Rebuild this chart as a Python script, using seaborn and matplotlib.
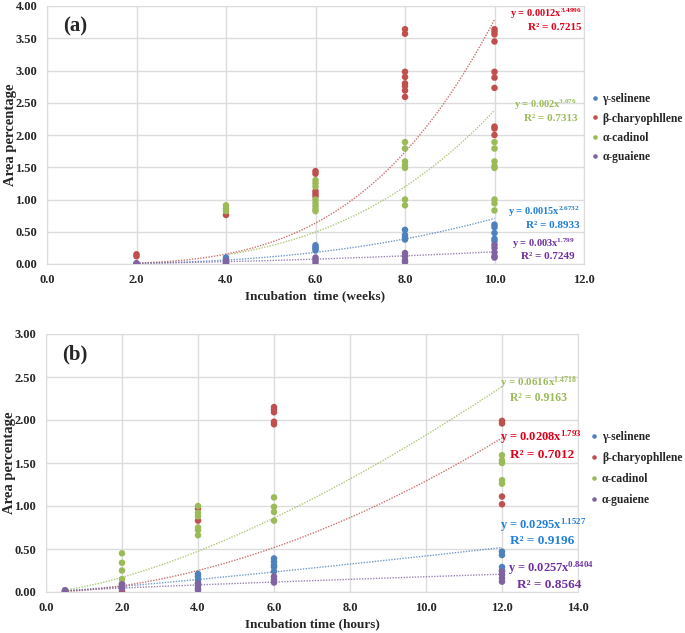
import numpy as np
import pandas as pd
import matplotlib
matplotlib.use("Agg")
import matplotlib.pyplot as plt
import seaborn as sns

# Step 1: data
compounds = ["γ-selinene", "β-charyophllene", "α-cadinol", "α-guaiene"]

# (a) weeks
a_sel_x = [2, 4, 4, 6, 6, 6, 6, 8, 8, 8, 8, 10, 10, 10, 10, 10]
a_sel_y = [0.01, 0.10, 0.06, 0.29, 0.26, 0.24, 0.21, 0.53, 0.45, 0.41, 0.38, 0.61, 0.57, 0.48, 0.39, 0.36]
a_car_x = [2, 2, 4, 6, 6, 6, 6, 6, 8, 8, 8, 8, 8, 8, 8, 8, 10, 10, 10, 10, 10, 10, 10, 10, 10, 10]
a_car_y = [0.15, 0.12, 0.76, 1.44, 1.40, 1.13, 1.09, 1.05, 3.64, 3.57, 2.98, 2.90, 2.80, 2.76, 2.69, 2.59,
           3.64, 3.60, 3.56, 3.45, 2.98, 2.89, 2.73, 2.13, 2.10, 2.00]
a_cad_x = [4, 4, 4, 6, 6, 6, 6, 6, 6, 6, 6, 8, 8, 8, 8, 8, 8, 8, 10, 10, 10, 10, 10, 10, 10, 10]
a_cad_y = [0.91, 0.86, 0.82, 1.30, 1.25, 1.20, 1.00, 0.95, 0.90, 0.85, 0.82, 1.89, 1.79, 1.59, 1.53, 1.49, 1.00, 0.91,
           1.89, 1.79, 1.59, 1.52, 1.49, 1.00, 0.94, 0.83]
a_gua_x = [2, 4, 4, 4, 6, 6, 6, 8, 8, 8, 8, 10, 10, 10, 10, 10]
a_gua_y = [0.01, 0.05, 0.02, 0.01, 0.10, 0.06, 0.02, 0.17, 0.12, 0.06, 0.03, 0.30, 0.25, 0.18, 0.12, 0.10]

# (b) hours
b_sel_x = [0.5, 2, 4, 4, 4, 4, 6, 6, 6, 6, 6, 12, 12, 12, 12]
b_sel_y = [0.01, 0.05, 0.21, 0.18, 0.14, 0.10, 0.39, 0.35, 0.31, 0.29, 0.24, 0.47, 0.43, 0.29, 0.25]
b_car_x = [0.5, 2, 2, 4, 4, 6, 6, 6, 6, 6, 12, 12, 12, 12]
b_car_y = [0.01, 0.06, 0.01, 0.97, 0.83, 2.15, 2.12, 2.09, 1.98, 1.95, 1.99, 1.96, 1.11, 1.02]
b_cad_x = [0.5, 2, 2, 2, 2, 2, 2, 4, 4, 4, 4, 4, 4, 6, 6, 6, 6, 12, 12, 12, 12, 12]
b_cad_y = [0.02, 0.45, 0.34, 0.25, 0.15, 0.10, 0.06, 1.00, 0.92, 0.88, 0.75, 0.72, 0.66, 1.10, 0.99, 0.93, 0.83,
           1.59, 1.53, 1.50, 1.30, 1.26]
b_gua_x = [0.5, 0.5, 2, 2, 2, 4, 4, 4, 4, 6, 6, 6, 12, 12, 12, 12]
b_gua_y = [0.02, 0.01, 0.09, 0.07, 0.04, 0.10, 0.07, 0.04, 0.02, 0.18, 0.14, 0.11, 0.24, 0.20, 0.16, 0.12]

# power trendlines y = c * x^p, as printed on the chart
a_coef = [0.0015, 0.0012, 0.002, 0.003]
a_pow = [2.6732, 3.4996, 3.076, 1.799]
a_r2 = [0.8933, 0.7215, 0.7313, 0.7249]
b_coef = [0.0295, 0.0208, 0.0616, 0.0257]
b_pow = [1.1527, 1.793, 1.4718, 0.8404]
b_r2 = [0.9196, 0.7012, 0.9163, 0.8564]

palette = ["#4F81BD", "#C0504D", "#9BBB59", "#8064A2"]
text_cols = ["#1F7FD6", "#E0001A", "#9BBB59", "#7030A0"]


def long_df(xs, ys):
    rows = []
    for name, x, y in zip(compounds, xs, ys):
        rows.append(pd.DataFrame({"x": x, "y": y, "compound": name}))
    return pd.concat(rows, ignore_index=True)


df_a = long_df([a_sel_x, a_car_x, a_cad_x, a_gua_x], [a_sel_y, a_car_y, a_cad_y, a_gua_y])
df_b = long_df([b_sel_x, b_car_x, b_cad_x, b_gua_x], [b_sel_y, b_car_y, b_cad_y, b_gua_y])

# Step 2: style
sns.set_style("white")
plt.rcParams["font.family"] = ["Liberation Serif", "DejaVu Serif"]
plt.rcParams["font.weight"] = "bold"
plt.rcParams["mathtext.fontset"] = "custom"
plt.rcParams["mathtext.rm"] = "Liberation Serif:bold"
plt.rcParams["mathtext.it"] = "Liberation Serif:bold"
plt.rcParams["mathtext.bf"] = "Liberation Serif:bold"

fig = plt.figure(figsize=(6.85, 6.33), dpi=100)
ax_a = fig.add_axes([47 / 685, 1 - 264 / 633, 537 / 685, 258 / 633])
ax_b = fig.add_axes([46 / 685, 1 - 592 / 633, 532 / 685, 258 / 633])


def draw_panel(ax, df, coef, powr, r2, xmax, ymax, xlabel, tag, lab_pos, lab_size, leg_x, leg_y, leg_sp):
    sns.scatterplot(data=df, x="x", y="y", hue="compound", palette=palette, s=22,
                    edgecolor="none", ax=ax, zorder=3)
    for i, name in enumerate(compounds):
        sub = df[df["compound"] == name]
        xx = np.linspace(sub["x"].min(), sub["x"].max(), 200)
        ax.plot(xx, coef[i] * xx ** powr[i], ls=(0, (1, 1)), lw=1.0, color=palette[i], alpha=0.8, zorder=2)
        tx, ty, ha = lab_pos[i]
        sz = lab_size[i]
        c = f"{coef[i]:g}"
        ax.text(tx, ty, f"y = {c}x$^{{{powr[i]}}}$", color=text_cols[i], fontsize=sz[0],
                ha=ha, va="center", fontweight="bold", clip_on=False)
        ax.text(tx - (0 if ha == "right" else -0.25), ty - sz[2], f"R² = {r2[i]}", color=text_cols[i],
                fontsize=sz[1], ha=ha, va="center", fontweight="bold", clip_on=False)
    ax.set_xlim(0, xmax)
    ax.set_ylim(0, ymax)
    ax.set_xticks(np.arange(0, xmax + 0.1, 2))
    ax.set_xticklabels([f"{v:.1f}" for v in np.arange(0, xmax + 0.1, 2)])
    yt = np.arange(0, ymax + 0.01, 0.5)
    ax.set_yticks(yt)
    ax.set_yticklabels([f"{v:.2f}" for v in yt])
    ax.tick_params(length=0, labelsize=9, pad=7)
    for lbl in ax.get_xticklabels() + ax.get_yticklabels():
        lbl.set_fontweight("bold")
    ax.grid(True, color="#DCDCDC", lw=1)
    for sp in ax.spines.values():
        sp.set_color("#DCDCDC")
    ax.set_xlabel(xlabel, fontsize=9.5, fontweight="bold")
    ax.xaxis.set_label_coords(0.5, -0.1)
    ax.set_ylabel("Area percentage", fontsize=10.5, fontweight="bold")
    ax.yaxis.set_label_coords(-30 / 537, 0.5)
    ax.text(0.03, 0.92, tag, transform=ax.transAxes, fontsize=15, fontweight="bold", va="center")
    leg = ax.legend(loc="upper left", bbox_to_anchor=(leg_x, leg_y), frameon=False, fontsize=8.4,
                    handletextpad=0.25, handlelength=0.8, labelspacing=leg_sp, markerscale=0.7,
                    borderaxespad=0, borderpad=0)
    for t in leg.get_texts():
        t.set_fontweight("bold")


draw_panel(ax_a, df_a, a_coef, a_pow, a_r2, 12, 4.0, "Incubation  time (weeks)", "(a)",
           [(11.9, 0.81, "right"), (11.95, 3.88, "right"), (11.85, 2.47, "right"), (11.8, 0.31, "right")],
           [(7.5, 8, 0.21), (7.5, 8, 0.22), (7.5, 8, 0.21), (7.5, 8, 0.2)], 1.011, 0.662, 0.63)
draw_panel(ax_b, df_b, b_coef, b_pow, b_r2, 14, 3.0, "Incubation time (hours)", "(b)",
           [(11.95, 0.78, "left"), (11.95, 1.80, "left"), (11.95, 2.43, "left"), (12.15, 0.28, "left")],
           [(9, 9.5, 0.19), (9, 9.5, 0.21), (8, 8.5, 0.17), (9, 9.5, 0.2)], 1.022, 0.625, 0.77)

plt.savefig("out.png", dpi=100)
